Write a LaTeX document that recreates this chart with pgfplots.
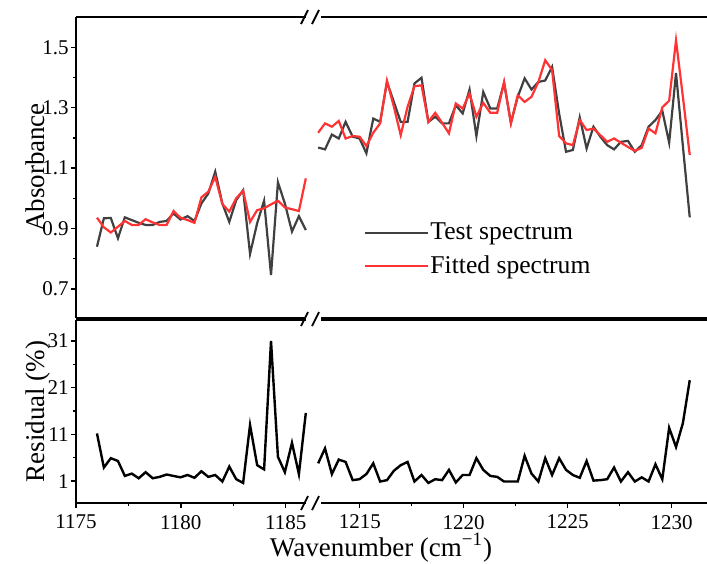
\documentclass[border=0pt]{standalone}
\usepackage{fontspec}
\setmainfont{Liberation Serif}
\usepackage{pgfplots}
\pgfplotsset{compat=1.18}
\usepackage{pgfplotstable}

\definecolor{testc}{RGB}{64,64,64}
\definecolor{fitc}{RGB}{255,51,51}

\pgfplotstableread{
x test fit res
1176.00 0.840 0.936 11.2
1176.33 0.934 0.904 3.9
1176.66 0.935 0.887 5.9
1177.00 0.868 0.906 5.3
1177.33 0.937 0.925 2.1
1177.66 0.928 0.912 2.6
1177.99 0.919 0.912 1.6
1178.32 0.912 0.931 2.9
1178.66 0.912 0.920 1.6
1178.99 0.922 0.912 1.9
1179.32 0.925 0.912 2.4
1179.65 0.950 0.958 2.1
1179.98 0.930 0.936 1.8
1180.32 0.941 0.928 2.3
1180.65 0.925 0.919 1.7
1180.98 0.983 1.003 3.1
1181.31 1.016 1.022 1.9
1181.64 1.088 1.071 2.3
1181.98 0.983 0.981 0.9
1182.31 0.922 0.956 4.1
1182.64 0.994 1.000 1.4
1182.97 1.027 1.025 0.6
1183.30 0.816 0.922 13.0
1183.64 0.918 0.961 4.4
1183.97 0.992 0.967 3.5
1184.30 0.746 0.980 31.0
1184.63 1.053 0.992 6.2
1184.96 0.983 0.970 2.9
1185.30 0.890 0.964 9.2
1185.63 0.941 0.958 2.5
1185.96 0.895 1.066 15.6
}\leftdata

\pgfplotstableread{
x test fit res
1213.00 1.168 1.217 4.8
1213.33 1.162 1.248 8.0
1213.66 1.211 1.237 2.5
1213.99 1.198 1.256 5.6
1214.32 1.253 1.198 5.1
1214.66 1.204 1.206 1.2
1214.99 1.198 1.204 1.4
1215.32 1.149 1.173 2.5
1215.65 1.264 1.217 4.8
1215.98 1.253 1.248 0.9
1216.31 1.385 1.389 1.2
1216.64 1.319 1.303 3.2
1216.97 1.253 1.209 4.4
1217.30 1.253 1.303 5.1
1217.63 1.380 1.371 0.9
1217.97 1.399 1.374 2.3
1218.30 1.253 1.253 0.6
1218.63 1.270 1.283 1.4
1218.96 1.248 1.250 1.2
1219.29 1.248 1.215 3.4
1219.62 1.308 1.314 0.7
1219.95 1.281 1.297 2.3
1220.28 1.360 1.347 2.3
1220.61 1.206 1.270 5.9
1220.94 1.352 1.316 3.4
1221.28 1.297 1.283 2.1
1221.61 1.297 1.283 1.9
1221.94 1.382 1.385 0.9
1222.27 1.250 1.248 0.9
1222.60 1.336 1.341 0.9
1222.93 1.397 1.319 6.4
1223.26 1.360 1.336 2.6
1223.59 1.385 1.385 0.9
1223.92 1.390 1.457 5.9
1224.25 1.435 1.424 2.3
1224.59 1.280 1.206 5.9
1224.92 1.154 1.182 3.4
1225.25 1.160 1.176 2.3
1225.58 1.268 1.259 1.7
1225.91 1.165 1.226 5.3
1226.24 1.237 1.231 1.1
1226.57 1.204 1.209 1.2
1226.90 1.176 1.187 1.4
1227.23 1.162 1.198 3.9
1227.56 1.187 1.184 0.9
1227.90 1.190 1.170 2.9
1228.23 1.154 1.157 0.9
1228.56 1.176 1.167 1.8
1228.89 1.237 1.231 0.9
1229.22 1.259 1.215 4.6
1229.55 1.290 1.301 1.4
1229.88 1.184 1.323 12.4
1230.21 1.415 1.523 8.3
1230.54 1.173 1.336 13.4
1230.87 0.937 1.143 22.6
}\rightdata

\pgfplotsset{
  base/.style={
    scale only axis,
    axis line style={line width=1.1pt},
    tick style={line width=0.7pt, black},
    tick label style={font=\fontsize{10.5}{12}\selectfont},
    yticklabel style={inner sep=1pt},
    /pgf/number format/assume math mode=true,
    tick align=outside,
    major tick length=2.5pt,
    minor tick length=1.6pt,
    label style={font=\fontsize{13.5}{15}\selectfont},
  },
  testline/.style={color=testc, line width=1.1pt},
  fitline/.style={color=fitc, line width=1.1pt},
  resline/.style={color=black, line width=1.2pt},
}

\begin{document}
\begin{tikzpicture}
\path[use as bounding box] (0pt,0pt) rectangle (353.5pt,-281.5pt);

% top left
\begin{axis}[base, at={(38pt,-159pt)}, anchor=south west,
  width=119pt, height=150.5pt,
  xmin=1175, xmax=1186.35, ymin=0.604, ymax=1.6,
  axis x line*=box, axis y line*=left,
  xtick=\empty,
  ytick={0.7,0.9,1.1,1.3,1.5}, yticklabels={0.7,0.9,1.1,1.3,1.5},
  minor ytick={0.8,1.0,1.2,1.4},
  ylabel={Absorbance},
  ylabel style={at={(axis description cs:-0.1303,0.5)}, anchor=base},
]
\addplot[testline] table[x=x,y=test] {\leftdata};
\addplot[fitline] table[x=x,y=fit] {\leftdata};
\end{axis}

% top right
\begin{axis}[base, at={(157pt,-159pt)}, anchor=south west,
  width=196.5pt, height=150.5pt,
  xmin=1212.8, xmax=1231.7, ymin=0.604, ymax=1.6,
  axis x line*=box, axis y line=none,
  xtick=\empty, ytick=\empty,
  legend style={draw=none, fill=none, at={(0.11,0.34)}, anchor=north west,
    font=\fontsize{12.8}{14}\selectfont, row sep=3.5pt,
    nodes={inner xsep=0.8pt, inner ysep=1.5pt}},
  legend cell align=left,
  legend image code/.code={\draw[#1] (0pt,0pt) -- (31.5pt,0pt);},
]
\addplot[testline] table[x=x,y=test] {\rightdata};
\addlegendentry{Test spectrum}
\addplot[fitline] table[x=x,y=fit] {\rightdata};
\addlegendentry{Fitted spectrum}
\end{axis}

% bottom left
\begin{axis}[base, at={(38pt,-251.5pt)}, anchor=south west,
  width=119pt, height=91.5pt,
  xmin=1175, xmax=1186.35, ymin=-3.7, ymax=35.5,
  axis x line*=box, axis y line*=left,
  xtick={1175,1180,1185}, xticklabels={1175,1180,1185},
  minor xtick={1177.5,1182.5},
  xtick pos=left,
  ytick={1,11,21,31}, yticklabels={1,11,21,31},
  minor ytick={6,16,26},
  ylabel={Residual (\%)},
  ylabel style={at={(axis description cs:-0.1303,0.5)}, anchor=base},
]
\addplot[resline] table[x=x,y=res] {\leftdata};
\end{axis}

% bottom right
\begin{axis}[base, at={(157pt,-251.5pt)}, anchor=south west,
  width=196.5pt, height=91.5pt,
  xmin=1212.8, xmax=1231.7, ymin=-3.7, ymax=35.5,
  axis x line*=box, axis y line=none,
  xtick={1215,1220,1225,1230}, xticklabels={1215,1220,1225,1230},
  minor xtick={1217.5,1222.5,1227.5},
  xtick pos=left,
  ytick=\empty,
]
\addplot[resline] table[x=x,y=res] {\rightdata};
\end{axis}

% axis break marks
\foreach \yy in {-8.5,-159.5,-251.5}{
  \fill[white] (153pt,\yy pt-2.4pt) rectangle (160.5pt,\yy pt+2.4pt);
  \draw[line width=0.9pt] (150.5pt,\yy pt-3.5pt) -- (154pt,\yy pt+3.5pt);
  \draw[line width=0.9pt] (156pt,\yy pt-3.5pt) -- (159.5pt,\yy pt+3.5pt);
}

\node[font=\fontsize{13.5}{15}\selectfont, anchor=base] at (190.5pt,-278pt) {Wavenumber (cm\textsuperscript{−1})};
\end{tikzpicture}
\end{document}
